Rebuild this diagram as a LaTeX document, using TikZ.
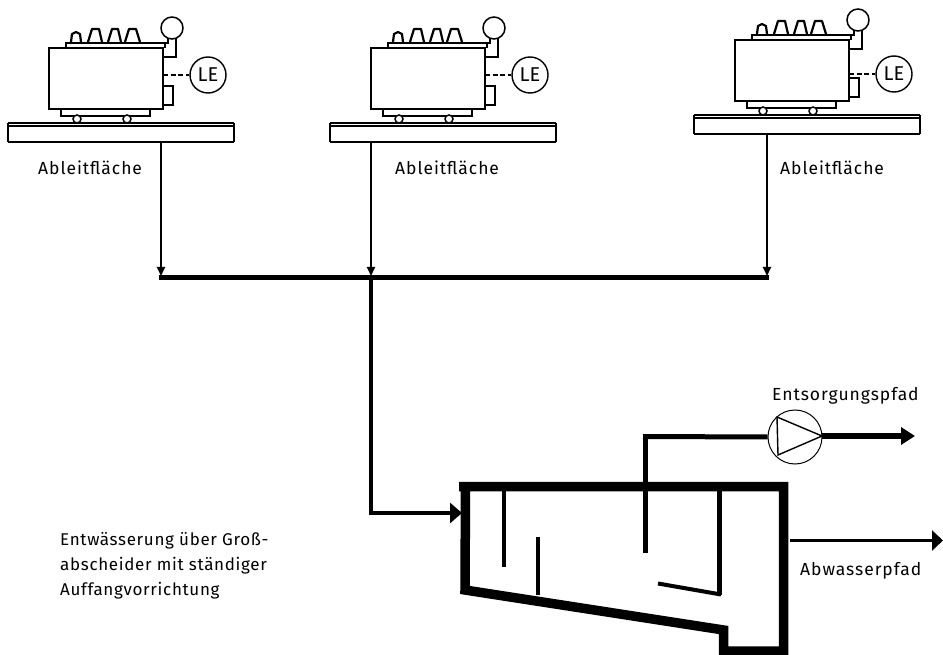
\documentclass[tikz,border=0pt]{standalone}
\usepackage{fontspec}
\setmainfont{Fira Sans}
\newfontfamily\lblfont[LetterSpace=5.5]{Fira Sans}
\newfontfamily\notefont[LetterSpace=4]{Fira Sans}
\usetikzlibrary{arrows.meta}
\tikzset{
  x=1pt,y=-1pt,
  thinl/.style={line width=1.5pt,line join=miter},
  gauge/.style={circle,draw,line width=1.4pt,minimum size=36pt,inner sep=0pt,fill=white,font=\fontsize{20}{22}\selectfont},
  txt/.style={inner sep=0pt,anchor=base west,font=\lblfont\fontsize{17.5}{24}\selectfont},
  notetxt/.style={inner sep=0pt,anchor=base west,font=\notefont\fontsize{17}{24}\selectfont},
  tap/.style={line width=1.8pt,-{Triangle[length=9pt,width=8pt]}},
  main/.style={line width=4.5pt},
  wall/.style={line width=9.5pt,line join=miter},
}
\newcommand{\xfmr}[4]{% name, x shift, y shift, LE y (absolute shift)
  \begin{scope}[shift={(#2,#3)}]
    \draw[thinl] (49,48) rectangle (163,109);
    \draw[thinl] (66,48) -- (66,43) -- (165,43) -- (165,48);
    \draw[thinl] (61,109) -- (61,116) -- (150,116) -- (150,109);
    \draw[thinl,fill=white] (77,119) circle (4);
    \draw[thinl,fill=white] (127,119) circle (4);
    \draw[line width=2.2pt,line join=round] (71,42) -- (72,34) -- (76,32) -- (80,34) -- (81,42);
    \draw[line width=2.2pt,line join=round] (88,42) -- (92,29) -- (99,29) -- (102,42);
    \draw[line width=2.2pt,line join=round] (108,42) -- (112,29) -- (118,29) -- (121,42);
    \draw[line width=2.2pt,line join=round] (125,42) -- (129,29) -- (136,29) -- (140,42);
    \draw[thinl] (165,43) -- (168,43) -- (168,37) (176,37) -- (176,57) -- (163,57);
    \draw[thinl,fill=white] (172,28) circle (11);
    \draw[thinl] (163,86) -- (173,86) -- (173,105) -- (163,105);
    \draw[line width=1.4pt] (8,123) -- (234,123);
    \draw[line width=1.4pt] (8,126) -- (234,126);
    \draw[line width=1.7pt] (8,123) -- (8,142);
    \draw[line width=2.2pt] (234,123) -- (234,142);
    \draw[line width=2.6pt] (8,142) -- (234,142);
    \coordinate (#1tank) at (163,#4);
  \end{scope}
  \node[gauge] (#1le) at (#2+208,#3+#4) {LE};
  \draw[line width=1.4pt,dash pattern=on 5pt off 2.5pt] (#1tank) -- (#1le);
}
\begin{document}
\begin{tikzpicture}
\useasboundingbox (0,0) rectangle (943,655);
\xfmr{a}{0}{0}{75}
\xfmr{b}{322}{0}{75}
\xfmr{c}{686}{-8}{82}

\node[txt] (la) at (38,175) {Ableitfläche};
\node[txt] (lb) at (395,175) {Ableitfläche};
\node[txt] (lc) at (780,175) {Ableitfläche};
\node[txt] (lp) at (772,400) {Entsorgungspfad};
\node[txt] (lw) at (800,575) {Abwasserpfad};
\node[notetxt] (t1) at (60,545) {Entwässerung über Groß-};
\node[notetxt] (t2) at (60,570) {abscheider mit ständiger};
\node[notetxt] (t3) at (60,595) {Auffangvorrichtung};

\coordinate (pa) at (161,143);
\coordinate (pb) at (371,143);
\coordinate (pc) at (767,134);
\coordinate (ca) at (161,276);
\coordinate (cb) at (371,276);
\coordinate (cc) at (767,276);
\coordinate (cl) at (159,277.5);
\coordinate (cr) at (769,277.5);
\coordinate (cm) at (371,277.5);
\coordinate (ve) at (462,513);
\coordinate (vc) at (371,513);

\draw[tap] (pa) -- (ca);
\draw[tap] (pb) -- (cb);
\draw[tap] (pc) -- (cc);
\draw[main] (cl) -- (cr);
\draw[main,-{Triangle[length=12pt,width=20pt]}] (cm) -- (vc) -- (ve);

% vessel
\draw[wall] (459,486.5) -- (783.5,486.5) -- (783.5,651) -- (723.5,651) -- (723.5,630) -- (465,590) -- (465.5,486.5);

% baffles
\draw[line width=4pt] (504,491) -- (504,567);
\draw[line width=3.5pt] (538,537) -- (538,595);
\draw[line width=5pt] (719,491) -- (719,595);
\draw[line width=4pt] (658,583.5) -- (721,594.5);

% pump
\node[circle,draw,line width=1pt,minimum size=54pt,inner sep=0pt] (pump) at (795,437) {};
\coordinate (pt) at (822,436);
\draw[line width=1.4pt] (777,417) -- (822,436) -- (778,455) -- cycle;
\coordinate (pk) at (645.5,437);
\coordinate (pv) at (645.5,553);
\coordinate (out) at (915,436);
\coordinate (w1) at (790,540.5);
\coordinate (w2) at (943,540.5);
\draw[line width=5pt] (pv) -- (pk);
\draw[line width=5pt] (643,436.5) -- (pump.west);
\draw[line width=6pt,-{Triangle[length=14pt,width=17pt]}] (pt) -- (out);
\draw[line width=3.5pt,-{Triangle[length=11pt,width=20pt]}] (w1) -- (w2);
\end{tikzpicture}
\end{document}
